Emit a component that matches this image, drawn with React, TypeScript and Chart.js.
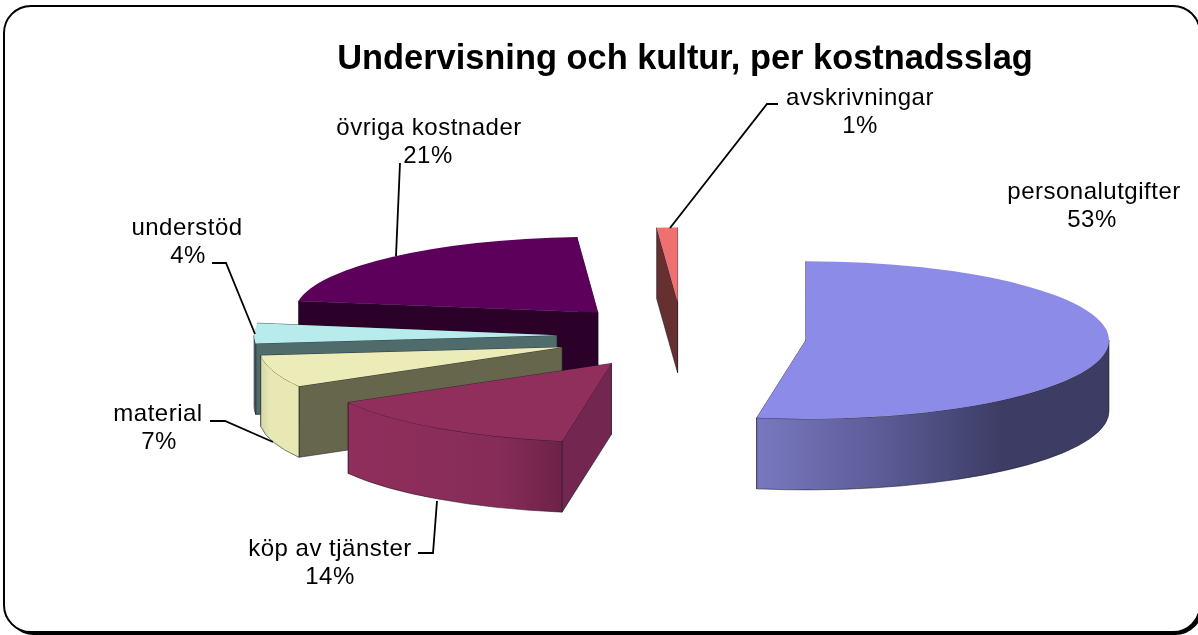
import React, { useEffect, useRef } from "react";
import { Chart, registerables } from "chart.js";

Chart.register(...registerables);

const titleText = "Undervisning och kultur, per kostnadsslag";
const categories = ["personalutgifter", "köp av tjänster", "material", "understöd", "övriga kostnader", "avskrivningar"];
const shares = [52.6, 14.15, 6.6, 4.1, 21.45, 1.1];

const FONT = '"Liberation Sans", Arial, sans-serif';
const topColors = ["#8c8ce8", "#902e5c", "#ececb8", "#b8ecec", "#5c005c", "#ee7070"];
const radialColors = ["#3c3c64", "#732650", "#66664d", "#4f6b6b", "#2b0029", "#663030"];
const arcStops: [number, string][][] = [
  [[0, "#7878c0"], [0.35, "#5c5c98"], [0.7, "#3c3c64"], [1, "#3c3c64"]],
  [[0, "#902e5c"], [0.7, "#862c58"], [1, "#6e2248"]],
  [[0, "#d8d8a8"], [0.25, "#e8e8b4"], [1, "#e8e8b4"]],
  [[0, "#5f8080"], [1, "#4f6b6b"]],
  [[0, "#2b0029"], [1, "#2b0029"]],
  [[0, "#663030"], [1, "#663030"]],
];
const paintOrder = [4, 5, 3, 2, 1, 0];
const EXPLODE = 128;
const DEPTH = 71;
const nudgeX = [-6.6, -0.5, -1, 0, -0.5, -3];
const nudgeY = [1.3, 0, 1, 0, 0, -3];
const squash = [0.26, 0.26, 0.26, 0.26, 0.25, 0.245];

const labelLayout = [
  { x: 1094, y: 192, pct: 1092 },
  { x: 330, y: 549, pct: 330 },
  { x: 158, y: 414, pct: 159 },
  { x: 187, y: 228, pct: 188 },
  { x: 429, y: 128, pct: 428 },
  { x: 860, y: 98, pct: 860 },
];
const leaders = [
  null,
  [[418, 553], [433, 553], [437, 501]],
  [[210, 421], [225, 421], [273, 442]],
  [[212, 263], [226, 263], [255, 334]],
  [[400, 163], [396, 256]],
  [[778, 104], [767, 104], [670, 228]],
];

const frame = {
  id: "frame",
  beforeDraw(chart: any) {
    const c = chart.ctx;
    c.save();
    c.fillStyle = "#fff";
    c.fillRect(0, 0, chart.width, chart.height);
    c.fillStyle = "#000";
    c.beginPath();
    c.roundRect(6.5, 9, 1196, 626, 27);
    c.fill();
    c.beginPath();
    c.roundRect(4, 6, 1196, 626, 27);
    c.fillStyle = "#fff";
    c.fill();
    c.lineWidth = 2;
    c.strokeStyle = "#000";
    c.stroke();
    c.restore();
  },
};

const pie3d = {
  id: "pie3d",
  beforeDatasetsDraw(chart: any) {
    const c = chart.ctx;
    const arcs = chart.getDatasetMeta(0).data;
    paintOrder.forEach((i) => {
      const arc = arcs[i];
      const k = squash[i];
      const start = arc.startAngle;
      const end = arc.endAngle;
      const mid = (start + end) / 2;
      const r = arc.outerRadius;
      const dx = Math.cos(mid) * EXPLODE;
      const dy = Math.sin(mid) * EXPLODE;
      const px = arc.x + dx;
      const py = arc.y + dy;
      const h = DEPTH / k;
      const enter = () => {
        c.save();
        c.translate(nudgeX[i], arc.y + nudgeY[i]);
        c.scale(1, k);
        c.translate(0, -arc.y);
      };
      const paint = (fill: any) => {
        c.fillStyle = fill;
        c.fill();
        c.lineWidth = 1;
        c.strokeStyle = "rgba(20,20,30,0.55)";
        c.stroke();
      };
      // radial faces, the one further back first
      [start, end]
        .sort((a, b) => Math.sin(a) - Math.sin(b))
        .forEach((a) => {
          enter();
          c.beginPath();
          c.moveTo(px, py);
          c.lineTo(px + Math.cos(a) * r, py + Math.sin(a) * r);
          c.lineTo(px + Math.cos(a) * r, py + Math.sin(a) * r + h);
          c.lineTo(px, py + h);
          c.closePath();
          c.restore();
          paint(radialColors[i]);
        });
      // curved outer face: only the part turned to the viewer
      const a1 = Math.max(start, 0);
      const a2 = Math.min(end, Math.PI);
      if (a2 > a1) {
        enter();
        c.beginPath();
        c.arc(px, py, r, a1, a2);
        c.lineTo(px + Math.cos(a2) * r, py + Math.sin(a2) * r + h);
        c.arc(px, py + h, r, a2, a1, true);
        c.closePath();
        c.restore();
        const x0 = px + Math.cos(a2) * r + nudgeX[i];
        const x1 = px + Math.cos(a1) * r + nudgeX[i];
        const g = c.createLinearGradient(x0, 0, x1, 0);
        arcStops[i].forEach(([s, col]) => g.addColorStop(s, col));
        paint(g);
      }
      // top face: the library's own arc element
      enter();
      c.translate(dx, dy);
      arc.draw(c);
      c.restore();
    });
    return false;
  },
};

const labelsPlugin = {
  id: "sliceLabels",
  afterDraw(chart: any) {
    const c = chart.ctx;
    c.save();
    c.strokeStyle = "#000";
    c.lineWidth = 1.8;
    leaders.forEach((pts) => {
      if (!pts) return;
      c.beginPath();
      pts.forEach(([x, y], j) => (j ? c.lineTo(x, y) : c.moveTo(x, y)));
      c.stroke();
    });
    c.fillStyle = "#000";
    c.font = `24px ${FONT}`;
    c.letterSpacing = "0.5px";
    c.textAlign = "center";
    c.textBaseline = "middle";
    categories.forEach((name, i) => {
      const p = labelLayout[i];
      c.fillText(name, p.x, p.y);
      c.fillText(`${Math.round(shares[i])}%`, p.pct, p.y + 28);
    });
    c.restore();
  },
};

export default function App() {
  const ref = useRef<HTMLCanvasElement>(null);
  useEffect(() => {
    const chart = new Chart(ref.current as HTMLCanvasElement, {
      type: "pie",
      data: {
        labels: categories,
        datasets: [
          {
            data: shares,
            backgroundColor: topColors,
            borderWidth: 0,
          },
        ],
      },
      options: {
        animation: false,
        responsive: false,
        radius: 303,
        layout: { padding: { left: 172, bottom: 42.6 } },
        plugins: {
          legend: { display: false },
          tooltip: { enabled: false },
          title: {
            display: true,
            text: titleText,
            fullSize: false,
            color: "#000",
            font: { family: FONT, size: 34.4, weight: "bold" },
            padding: { top: 38.5, bottom: 0 },
          },
        },
      },
      plugins: [frame, pie3d, labelsPlugin],
    } as any);
    return () => chart.destroy();
  }, []);
  return (
    <div style={{ position: "fixed", left: 0, top: 0, width: 1198, height: 635, background: "#fff" }}>
      <canvas ref={ref} width={1198} height={635} style={{ display: "block" }} />
    </div>
  );
}
